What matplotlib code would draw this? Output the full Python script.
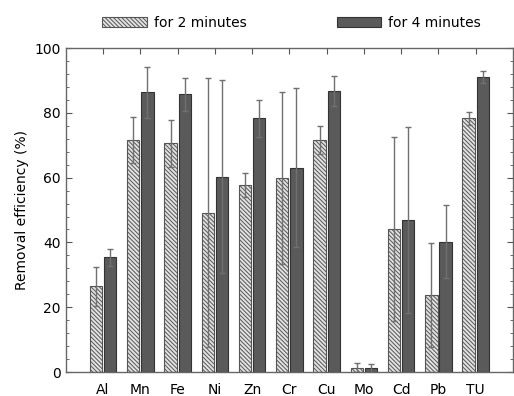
import matplotlib
matplotlib.use("Agg")
import matplotlib.pyplot as plt
import numpy as np
from matplotlib.ticker import MultipleLocator

categories = ["Al", "Mn", "Fe", "Ni", "Zn", "Cr", "Cu", "Mo", "Cd", "Pb", "TU"]
two_min = [26.5, 71.6, 70.6, 49.2, 57.8, 59.8, 71.6, 1.1, 44.1, 23.8, 78.3]
two_min_err = [6.0, 7.2, 7.2, 41.6, 3.7, 26.5, 4.4, 1.6, 28.5, 16.0, 1.9]
four_min = [35.4, 86.3, 85.7, 60.3, 78.3, 63.1, 86.7, 1.2, 46.9, 40.2, 91.1]
four_min_err = [2.6, 8.0, 5.0, 29.8, 5.7, 24.5, 4.7, 1.3, 28.6, 11.3, 1.8]
legend_labels = ["for 2 minutes", "for 4 minutes"]

plt.rcParams['hatch.color'] = '#555555'
plt.rcParams['hatch.linewidth'] = 0.7

fig = plt.figure(figsize=(5.14, 3.96), dpi=100)
ax = fig.add_axes([0.128, 0.0606, 0.870, 0.818])

x = np.arange(1, len(categories) + 1)
w = 0.33
off = 0.19
b1 = ax.bar(x - off, two_min, w, facecolor='#e2e2e2', edgecolor='#555555',
            hatch='\\' * 8, linewidth=0.8, label=legend_labels[0])
b2 = ax.bar(x + off, four_min, w, facecolor='#5a5a5a', edgecolor='#333333',
            linewidth=0.8, label=legend_labels[1])
ax.errorbar(x - off, two_min, yerr=two_min_err, fmt='none', ecolor='#707070',
            elinewidth=1.0, capsize=2.5, capthick=1.0)
ax.errorbar(x + off, four_min, yerr=four_min_err, fmt='none', ecolor='#707070',
            elinewidth=1.0, capsize=2.5, capthick=1.0)

ax.set_xlim(0, 12)
ax.set_ylim(0, 100)
ax.set_xticks(x)
ax.set_xticklabels(categories, fontsize=10)
ax.yaxis.set_major_locator(MultipleLocator(20))
ax.yaxis.set_minor_locator(MultipleLocator(4))
ax.tick_params(axis='both', which='both', direction='in', top=True, right=True,
               color='#555555', labelsize=10)
ax.tick_params(axis='x', which='major', length=4, bottom=False, pad=8)
ax.tick_params(axis='y', which='major', length=4)
ax.tick_params(axis='y', which='minor', length=2)
for s in ax.spines.values():
    s.set_color('#666666')
    s.set_linewidth(1.0)
ax.set_ylabel("Removal efficiency (%)", fontsize=10)

fig.legend(handles=[b1, b2], labels=legend_labels, loc='center',
           bbox_to_anchor=(0.567, 0.942), ncol=2, frameon=False, fontsize=10,
           handlelength=3.2, handleheight=0.8, handletextpad=0.5,
           columnspacing=6.5)

fig.savefig("out.png", dpi=100)
